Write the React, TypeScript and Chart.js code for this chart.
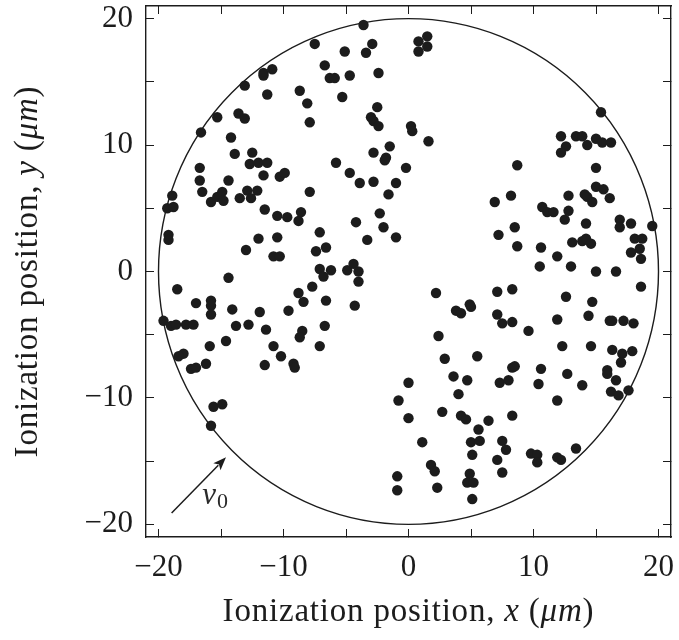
import React, { useEffect, useRef } from 'react';
import { Chart, registerables } from 'chart.js';

Chart.register(...registerables);

// Ionization positions (µm)
const upperLeftPoints: [number, number][] = [
  [-7.5, 18.0], [-11.6, 15.7], [-11.6, 15.5], [-10.9, 16.0], [-13.1, 14.7], [-11.3, 14.0], [-8.7, 14.3],
  [-8.1, 13.3], [-7.9, 11.8], [-15.3, 12.2], [-13.6, 12.5], [-13.1, 12.1], [-16.6, 11.0], [-14.2, 10.6],
  [-13.9, 9.3], [-12.5, 9.4], [-12.7, 8.5], [-12.0, 8.6], [-11.3, 8.6], [-16.7, 8.2], [-11.6, 7.6],
  [-10.3, 7.5], [-9.9, 7.8], [-14.4, 7.2], [-16.7, 7.2],
  [-3.6, 19.5], [-5.1, 17.4], [-2.9, 18.0], [-3.4, 17.3], [0.8, 18.2], [1.5, 18.6], [1.5, 17.8], [0.8, 17.4],
  [-6.7, 16.3], [-6.3, 15.3], [-5.9, 15.3], [-4.7, 15.5], [-2.4, 15.7], [-5.3, 13.8], [-2.5, 13.0],
  [-3.0, 12.2], [-2.8, 11.9], [-2.4, 11.5], [0.2, 11.5], [0.3, 11.1], [1.6, 10.3], [-1.5, 9.9], [-2.8, 9.4],
  [-1.8, 9.0], [-1.9, 8.8], [-5.8, 8.6], [-0.2, 8.2], [-4.7, 7.8], [-2.8, 7.1], [-3.9, 7.0], [-1.0, 7.0],
  [-18.9, 6.0], [-16.5, 6.3], [-15.8, 5.5], [-15.3, 5.9], [-14.9, 6.3], [-14.8, 5.6], [-13.5, 5.8],
  [-12.9, 6.4], [-12.1, 6.4], [-12.6, 5.8], [-7.9, 6.3], [-19.3, 5.0], [-18.8, 5.1], [-11.5, 4.9],
  [-10.5, 4.4], [-9.7, 4.3], [-8.8, 4.0], [-8.6, 4.7], [-19.2, 2.9], [-19.2, 2.5], [-12.0, 2.6],
  [-10.5, 2.7], [-13.0, 1.7], [-10.8, 1.2], [-10.3, 1.2], [-7.1, 3.1], [-7.4, 1.6], [-7.1, 0.2],
  [-14.4, -0.5], [-18.5, -1.4], [-7.7, -1.2], [-8.8, -1.7], [-8.4, -2.4], [-17.0, -2.5], [-15.8, -2.3],
  [-15.8, -2.7], [-15.8, -3.4], [-14.1, -3.0], [-11.9, -3.2], [-9.6, -3.1], [-19.6, -3.9], [-19.0, -4.3],
  [-18.6, -4.2], [-17.8, -4.2], [-17.2, -4.2], [-13.8, -4.3], [-12.8, -4.2], [-11.4, -4.6], [-8.5, -4.7],
  [-8.7, -5.2], [-14.6, -5.5], [-15.9, -5.9], [-10.8, -5.9], [-7.1, -5.9], [-18.0, -6.5], [-18.4, -6.7],
  [-10.2, -6.7],
  [-1.6, 6.1], [-2.3, 4.6], [-4.2, 3.9], [-2.0, 3.5], [-1.0, 2.7], [-3.3, 2.5], [-6.6, 1.9], [-6.2, 0.1],
  [-6.8, -0.4], [-4.9, 0.1], [-4.4, 0.6], [-4.0, 0.0], [-4.0, -0.8], [-6.6, -2.3], [-4.3, -2.7], [-6.7, -4.3],
  [-17.4, -7.7], [-17.0, -7.6], [-16.2, -7.3], [-11.5, -7.4], [-9.2, -7.3], [-9.1, -7.6], [-15.6, -10.7],
  [-14.9, -10.5], [-15.8, -12.2],
];

const lowerRightPoints: [number, number][] = [
  [15.4, 12.6], [12.2, 10.7], [13.4, 10.7], [13.9, 10.7], [15.0, 10.5], [15.5, 10.2], [16.2, 10.2],
  [14.3, 10.0], [12.6, 9.9], [12.2, 9.4], [8.7, 8.4], [15.0, 8.2],
  [2.2, -1.7], [3.8, -3.1], [4.2, -3.3], [4.9, -2.6], [5.0, -2.8], [2.4, -5.1], [2.9, -6.9], [5.5, -6.7],
  [6.9, 5.5], [8.2, 6.0], [12.8, 6.0], [15.0, 6.7], [15.6, 6.5], [14.1, 6.1], [14.3, 5.9], [14.7, 5.5],
  [16.1, 5.8], [10.7, 5.1], [11.1, 4.7], [11.6, 4.7], [12.8, 4.8], [12.5, 4.1], [14.2, 3.8], [16.9, 4.1],
  [16.9, 3.5], [17.8, 3.8], [19.5, 3.6], [8.5, 3.5], [7.2, 2.9], [8.7, 2.0], [10.6, 1.9], [11.9, 1.2],
  [13.1, 2.3], [13.9, 2.4], [14.2, 2.6], [14.6, 2.2], [18.1, 2.6], [18.7, 2.6], [18.5, 1.8], [17.8, 1.5],
  [18.6, 1.0], [10.5, 0.4], [13.0, 0.4], [15.0, 0.0], [16.6, 0.0], [18.6, -1.2], [7.1, -1.6], [8.3, -1.4],
  [12.6, -2.0], [14.7, -2.4], [7.1, -3.4], [7.5, -4.1], [8.3, -4.0], [9.6, -4.7], [11.9, -3.8], [14.4, -3.5],
  [16.1, -3.9], [16.3, -3.9], [17.2, -3.9], [18.0, -4.1], [12.3, -5.9], [14.6, -5.9], [16.3, -6.2],
  [17.1, -6.5], [17.9, -6.3],
  [0.0, -8.8], [-0.8, -10.2], [3.6, -8.3], [4.7, -8.6], [4.0, -9.7], [0.0, -11.6], [2.7, -11.1],
  [4.2, -11.4], [4.6, -11.7], [6.4, -11.8], [5.6, -12.5], [1.1, -13.5], [5.0, -13.5], [5.7, -13.4],
  [5.1, -14.5], [1.8, -15.3], [2.1, -15.8], [-0.9, -16.2], [-0.9, -17.3], [2.3, -17.1], [4.9, -16.0],
  [4.7, -16.7], [5.2, -16.7], [5.1, -18.0],
  [17.0, -7.2], [8.3, -7.6], [8.5, -7.5], [10.6, -7.7], [12.7, -8.1], [7.3, -8.8], [8.0, -8.6],
  [10.4, -8.9], [13.9, -9.0], [15.9, -7.8], [15.9, -8.1], [16.6, -8.6], [16.2, -9.5], [16.8, -9.8],
  [17.6, -9.4], [11.9, -10.2], [8.3, -11.4], [7.5, -13.4], [7.8, -14.1], [7.1, -14.9], [7.5, -15.9],
  [9.8, -14.4], [10.3, -14.5], [10.3, -15.1], [11.9, -14.7], [12.2, -14.9], [13.4, -14.0],
];

const axisMin = -21;
const axisMax = 21;
const tickValues = [-20, -15, -10, -5, 0, 5, 10, 15, 20];
const labelledTicks = [-20, -10, 0, 10, 20];

const circleCenter: [number, number] = [0, 0];
const circleRadius = 20;
const arrowTail: [number, number] = [-18.95, -19.1];
const arrowHead: [number, number] = [-14.6, -14.7];
const arrowLabelAt: [number, number] = [-16.5, -18.4];

const xTitle = [
  { text: 'Ionization position, ', italic: false },
  { text: 'x', italic: true },
  { text: ' (', italic: false },
  { text: 'μm', italic: true },
  { text: ')', italic: false },
];
const yTitle = [
  { text: 'Ionization position, ', italic: false },
  { text: 'y', italic: true },
  { text: ' (', italic: false },
  { text: 'μm', italic: true },
  { text: ')', italic: false },
];

const FONT = '"Liberation Serif", "DejaVu Serif", serif';
const INK = '#1c1c1c';
const TITLE_SIZE = 33;

function drawSegments(ctx: CanvasRenderingContext2D, segs: { text: string; italic: boolean }[], cx: number, baseline: number) {
  const fontFor = (it: boolean) => `${it ? 'italic ' : ''}${TITLE_SIZE}px ${FONT}`;
  (ctx as any).letterSpacing = '0.8px';
  let total = 0;
  const widths = segs.map((s) => {
    ctx.font = fontFor(s.italic);
    const w = ctx.measureText(s.text).width;
    total += w;
    return w;
  });
  let x = cx - total / 2;
  ctx.textAlign = 'left';
  ctx.textBaseline = 'alphabetic';
  segs.forEach((s, i) => {
    ctx.font = fontFor(s.italic);
    ctx.fillText(s.text, x, baseline);
    x += widths[i];
  });
  (ctx as any).letterSpacing = '0px';
}

const overlayPlugin = {
  id: 'overlay',
  beforeDatasetsDraw(chart: any) {
    const { ctx, scales } = chart;
    const x = scales.x;
    const y = scales.y;
    const cx = x.getPixelForValue(circleCenter[0]);
    const cy = y.getPixelForValue(circleCenter[1]);
    const rx = x.getPixelForValue(circleCenter[0] + circleRadius) - cx;
    const ry = cy - y.getPixelForValue(circleCenter[1] + circleRadius);
    ctx.save();
    ctx.beginPath();
    ctx.ellipse(cx, cy, rx, ry, 0, 0, Math.PI * 2);
    ctx.lineWidth = 1.4;
    ctx.strokeStyle = INK;
    ctx.stroke();
    ctx.restore();
  },
  afterDraw(chart: any) {
    const { ctx, scales, chartArea } = chart;
    const x = scales.x;
    const y = scales.y;
    ctx.save();
    // arrow
    const x1 = x.getPixelForValue(arrowTail[0]);
    const y1 = y.getPixelForValue(arrowTail[1]);
    const x2 = x.getPixelForValue(arrowHead[0]);
    const y2 = y.getPixelForValue(arrowHead[1]);
    const ang = Math.atan2(y2 - y1, x2 - x1);
    const headLen = 13;
    const headHalf = 5;
    const bx = x2 - headLen * Math.cos(ang);
    const by = y2 - headLen * Math.sin(ang);
    ctx.strokeStyle = INK;
    ctx.fillStyle = INK;
    ctx.lineWidth = 1.5;
    ctx.beginPath();
    ctx.moveTo(x1, y1);
    ctx.lineTo(bx + 2 * Math.cos(ang), by + 2 * Math.sin(ang));
    ctx.stroke();
    ctx.beginPath();
    ctx.moveTo(x2, y2);
    ctx.lineTo(bx - headHalf * Math.sin(ang), by + headHalf * Math.cos(ang));
    ctx.lineTo(bx + 3 * Math.cos(ang), by + 3 * Math.sin(ang));
    ctx.lineTo(bx + headHalf * Math.sin(ang), by - headHalf * Math.cos(ang));
    ctx.closePath();
    ctx.fill();
    // v0 label
    const lx = x.getPixelForValue(arrowLabelAt[0]);
    const ly = y.getPixelForValue(arrowLabelAt[1]);
    ctx.textAlign = 'left';
    ctx.textBaseline = 'alphabetic';
    ctx.fillStyle = '#2a2a2a';
    ctx.font = `italic 31px ${FONT}`;
    ctx.fillText('v', lx, ly);
    const vw = ctx.measureText('v').width;
    ctx.font = `22px ${FONT}`;
    ctx.fillText('0', lx + vw + 1, ly + 4);
    // axis titles
    ctx.fillStyle = INK;
    drawSegments(ctx, xTitle, (chartArea.left + chartArea.right) / 2, 621);
    ctx.translate(37, (chartArea.top + chartArea.bottom) / 2);
    ctx.rotate(-Math.PI / 2);
    drawSegments(ctx, yTitle, 0, 0);
    ctx.restore();
  },
};

const setTicks = (s: any) => {
  s.ticks = tickValues.map((v) => ({ value: v }));
};
const fmt = (v: any) => {
  const n = Number(v);
  if (!labelledTicks.includes(n)) return '';
  return n < 0 ? '\u2212' + Math.abs(n) : String(n);
};

const gridOpts = { drawOnChartArea: false, drawTicks: true, tickLength: -8, color: INK, lineWidth: 1 };
const borderOpts = { display: true, color: INK, width: 1.4 };
const tickFont = { family: FONT, size: 31, lineHeight: 1.2 };

export default function App() {
  const ref = useRef<HTMLCanvasElement | null>(null);
  useEffect(() => {
    if (!ref.current) return;
    const chart = new Chart(ref.current, {
      type: 'scatter',
      data: {
        datasets: [
          {
            data: upperLeftPoints.map(([px, py]) => ({ x: px, y: py })),
            pointRadius: 5.2,
            pointHoverRadius: 5.2,
            backgroundColor: INK,
            borderWidth: 0,
          },
          {
            data: lowerRightPoints.map(([px, py]) => ({ x: px, y: py })),
            pointRadius: 5.2,
            pointHoverRadius: 5.2,
            backgroundColor: INK,
            borderWidth: 0,
          },
        ],
      },
      options: {
        animation: false,
        responsive: false,
        events: [],
        layout: { padding: { left: 0, top: 6, right: 8, bottom: 0 } },
        plugins: { legend: { display: false }, tooltip: { enabled: false } },
        scales: {
          x: {
            type: 'linear',
            position: 'bottom',
            min: axisMin,
            max: axisMax,
            afterBuildTicks: setTicks,
            afterFit: (s: any) => {
              s.height = 103;
              s.paddingLeft = 0;
              s.paddingRight = 0;
            },
            ticks: { callback: fmt, color: INK, font: tickFont, padding: 20, maxRotation: 0, autoSkip: false },
            grid: gridOpts,
            border: borderOpts,
          },
          y: {
            type: 'linear',
            position: 'left',
            min: axisMin,
            max: axisMax,
            afterBuildTicks: setTicks,
            afterFit: (s: any) => {
              s.width = 146;
              s.paddingTop = 0;
              s.paddingBottom = 0;
            },
            ticks: { callback: fmt, color: INK, font: tickFont, padding: 21, autoSkip: false },
            grid: gridOpts,
            border: borderOpts,
          },
          x2: {
            type: 'linear',
            position: 'top',
            min: axisMin,
            max: axisMax,
            afterBuildTicks: setTicks,
            afterFit: (s: any) => {
              s.height = 0;
              s.paddingLeft = 0;
              s.paddingRight = 0;
            },
            ticks: { display: false },
            grid: gridOpts,
            border: borderOpts,
          },
          y2: {
            type: 'linear',
            position: 'right',
            min: axisMin,
            max: axisMax,
            afterBuildTicks: setTicks,
            afterFit: (s: any) => {
              s.width = 0;
              s.paddingTop = 0;
              s.paddingBottom = 0;
            },
            ticks: { display: false },
            grid: gridOpts,
            border: borderOpts,
          },
        },
      },
      plugins: [overlayPlugin],
    } as any);
    return () => chart.destroy();
  }, []);
  return (
    <div style={{ position: 'absolute', left: 0, top: 0, width: 679, height: 640, background: '#fff' }}>
      <canvas ref={ref} width={679} height={640} style={{ width: 679, height: 640, display: 'block' }} />
    </div>
  );
}
